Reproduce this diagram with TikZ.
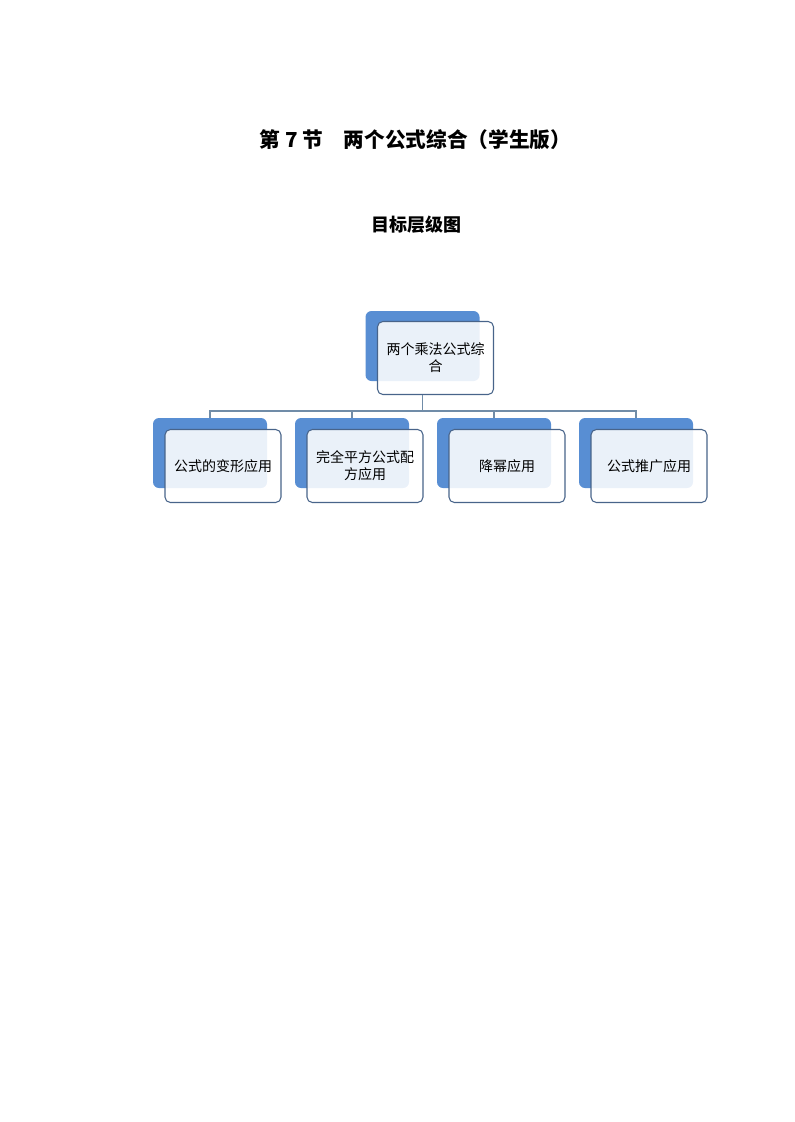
\documentclass[tikz,border=0pt]{standalone}
\usepackage{fontspec}
\newfontfamily\cjk{Noto Sans CJK SC}
\usetikzlibrary{positioning}
\definecolor{backblue}{RGB}{88,142,211}
\definecolor{edgeblue}{RGB}{72,100,138}
\definecolor{linkblue}{RGB}{112,140,168}

\begin{document}
\begin{tikzpicture}[x=0.75pt,y=-0.75pt]
\tikzstyle{back}=[fill=backblue,rounded corners=4.5pt,minimum width=85.5pt,minimum height=52.5pt,inner sep=0pt]
\tikzstyle{front}=[draw=edgeblue,line width=0.8pt,fill=white,fill opacity=0.88,text opacity=1,rounded corners=4pt,minimum width=87pt,minimum height=54.75pt,inner sep=0pt,align=center,font=\cjk\fontsize{10.5}{12.75}\selectfont]
\tikzstyle{link}=[draw=linkblue,line width=0.9pt]
\useasboundingbox (0,0) rectangle (794,1122);
% titles
\node (title) at (415.5,140) {\cjk\bfseries\fontsize{15.5}{18}\selectfont 第 7 节\quad 两个公式综合（学生版）};
\node (subtitle) at (416,225) {\cjk\bfseries\fontsize{13.5}{16}\selectfont 目标层级图};
% back plates
\node[back] (topback) at (422.5,346) {};
\node[back] (c1back) at (210,453) {};
\node[back] (c2back) at (352,453) {};
\node[back] (c3back) at (494,453) {};
\node[back] (c4back) at (636,453) {};
% front boxes
\node[front] (top) at (435.5,358) {两个乘法公式综\\合};
\node[front] (c1) at (223,466) {公式的变形应用};
\node[front] (c2) at (365,466) {完全平方公式配\\方应用};
\node[front] (c3) at (507,466) {降幂应用};
\node[front] (c4) at (649,466) {公式推广应用};
% connectors
\draw[link] (topback.south |- top.south) -- ++(0,16) -| (c1back.north);
\draw[link] (topback.south |- top.south) -- ++(0,16) -| (c2back.north);
\draw[link] (topback.south |- top.south) -- ++(0,16) -| (c3back.north);
\draw[link] (topback.south |- top.south) -- ++(0,16) -| (c4back.north);
\end{tikzpicture}
\end{document}
